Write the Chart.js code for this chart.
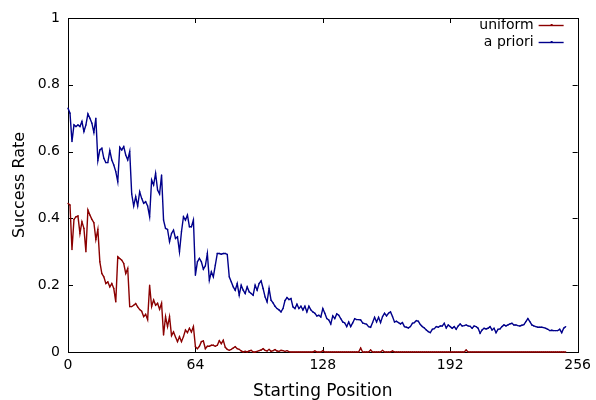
<!DOCTYPE html>
<html>
<head>
<meta charset="utf-8">
<script src="https://cdn.jsdelivr.net/npm/chart.js@4.4.1/dist/chart.umd.min.js"></script>
<style>
  html, body { margin: 0; padding: 0; background: #fff; }
</style>
</head>
<body>
<canvas id="chart" width="596" height="400"></canvas>
<script>
// Tick positions on both axes
const xTicks = [0, 64, 128, 192, 256];
const yTicks = [0, 0.2, 0.4, 0.6, 0.8, 1];
const seriesNames = ["uniform", "a priori"];

// Success rate per starting position (0..250)
const uniformRate = [
  0.445, 0.44, 0.307, 0.397, 0.405, 0.407, 0.355, 0.39, 0.37, 0.30,
  0.425, 0.41, 0.397, 0.387, 0.337, 0.367, 0.27, 0.235, 0.225, 0.205,
  0.21, 0.195, 0.205, 0.19, 0.15, 0.285, 0.28, 0.275, 0.265, 0.235,
  0.25, 0.136, 0.136, 0.14, 0.145, 0.135, 0.127, 0.122, 0.106, 0.113,
  0.097, 0.20, 0.136, 0.156, 0.14, 0.146, 0.128, 0.146, 0.051, 0.106,
  0.076, 0.106, 0.049, 0.06, 0.045, 0.031, 0.046, 0.031, 0.046, 0.066,
  0.058, 0.071, 0.06, 0.076, 0.016, 0.01, 0.017, 0.031, 0.033, 0.01,
  0.017, 0.017, 0.02, 0.02, 0.017, 0.02, 0.034, 0.025, 0.035, 0.014,
  0.008, 0.005, 0.008, 0.012, 0.016, 0.01, 0.008, 0.003, 0, 0.002,
  0, 0.003, 0.005, 0, 0, 0.002, 0.004, 0.006, 0.01, 0.005,
  0.003, 0.008, 0.002, 0.004, 0.007, 0.003, 0.002, 0.005, 0.004, 0.002,
  0.004, 0.001, 0, 0, 0, 0, 0, 0, 0, 0,
  0, 0, 0, 0, 0.003, 0, 0, 0, 0.004, 0,
  0, 0, 0, 0, 0, 0, 0, 0, 0, 0,
  0, 0, 0, 0, 0, 0, 0, 0.012, 0, 0,
  0, 0, 0.006, 0, 0, 0, 0, 0, 0.005, 0,
  0, 0, 0, 0.003, 0, 0, 0, 0, 0, 0,
  0, 0, 0, 0, 0, 0, 0, 0, 0, 0,
  0, 0, 0, 0, 0, 0, 0, 0, 0, 0,
  0, 0, 0, 0, 0, 0, 0, 0, 0, 0,
  0.006, 0, 0, 0, 0, 0, 0, 0, 0, 0,
  0, 0, 0, 0, 0, 0, 0, 0, 0, 0,
  0, 0, 0, 0, 0, 0, 0, 0, 0, 0,
  0, 0, 0, 0, 0, 0, 0, 0, 0, 0,
  0, 0, 0, 0, 0, 0, 0, 0, 0, 0,
  0
];

const aprioriRate = [
  0.73, 0.715, 0.63, 0.68, 0.675, 0.68, 0.675, 0.69, 0.66, 0.68,
  0.713, 0.70, 0.685, 0.657, 0.70, 0.573, 0.605, 0.61, 0.58, 0.567,
  0.567, 0.603, 0.575, 0.56, 0.54, 0.51, 0.613, 0.605, 0.615, 0.59,
  0.575, 0.60, 0.473, 0.437, 0.465, 0.437, 0.48, 0.46, 0.445, 0.45,
  0.437, 0.405, 0.515, 0.50, 0.535, 0.485, 0.473, 0.53, 0.395, 0.37,
  0.367, 0.33, 0.355, 0.365, 0.34, 0.345, 0.30, 0.36, 0.405, 0.395,
  0.41, 0.375, 0.375, 0.395, 0.23, 0.27, 0.28, 0.27, 0.248, 0.258,
  0.295, 0.215, 0.24, 0.225, 0.26, 0.295, 0.295, 0.293, 0.295, 0.295,
  0.292, 0.225, 0.21, 0.195, 0.185, 0.205, 0.17, 0.20, 0.185, 0.175,
  0.195, 0.18, 0.175, 0.17, 0.20, 0.185, 0.205, 0.213, 0.19, 0.165,
  0.15, 0.19, 0.155, 0.147, 0.137, 0.13, 0.126, 0.12, 0.13, 0.154,
  0.163, 0.157, 0.16, 0.135, 0.13, 0.143, 0.13, 0.137, 0.126, 0.137,
  0.12, 0.137, 0.126, 0.12, 0.116, 0.108, 0.11, 0.105, 0.13, 0.116,
  0.10, 0.096, 0.084, 0.108, 0.10, 0.114, 0.11, 0.10, 0.09, 0.087,
  0.076, 0.09, 0.076, 0.087, 0.10, 0.097, 0.097, 0.096, 0.087, 0.085,
  0.083, 0.076, 0.074, 0.088, 0.104, 0.09, 0.104, 0.088, 0.106, 0.116,
  0.108, 0.116, 0.12, 0.106, 0.09, 0.092, 0.088, 0.084, 0.088, 0.076,
  0.074, 0.072, 0.076, 0.086, 0.088, 0.094, 0.092, 0.082, 0.076, 0.072,
  0.066, 0.061, 0.058, 0.068, 0.07, 0.076, 0.074, 0.078, 0.078, 0.086,
  0.072, 0.081, 0.076, 0.071, 0.076, 0.068, 0.078, 0.084, 0.078, 0.079,
  0.081, 0.078, 0.077, 0.071, 0.078, 0.076, 0.071, 0.056, 0.066, 0.071,
  0.069, 0.071, 0.076, 0.066, 0.071, 0.058, 0.068, 0.069, 0.076, 0.081,
  0.078, 0.081, 0.084, 0.086, 0.081, 0.081, 0.079, 0.078, 0.08, 0.082,
  0.091, 0.10, 0.091, 0.081, 0.078, 0.076, 0.074, 0.074, 0.074, 0.073,
  0.071, 0.068, 0.064, 0.065, 0.064, 0.064, 0.064, 0.068, 0.058, 0.071,
  0.076
];

const colors = ["#8b0000", "#00008b"];
const fontFamily = "'DejaVu Sans', sans-serif";
const lineWidth = 1.4;

// turn a list of rates into {x, y} points, x being the starting position
function toPoints(rates) {
    return rates.map((rate, pos) => ({ x: pos, y: rate }));
}

// Box around the plot area with small inward ticks on every side
const framePlugin = {
    id: "frame",
    beforeDatasetsDraw(chart) {
        const { ctx, chartArea: a, scales } = chart;
        const len = 5;
        ctx.save();
        ctx.strokeStyle = "#000";
        ctx.lineWidth = 1;
        ctx.beginPath();
        xTicks.forEach(v => {
            const x = Math.round(scales.x.getPixelForValue(v)) + 0.5;
            ctx.moveTo(x, a.bottom); ctx.lineTo(x, a.bottom - len);
            ctx.moveTo(x, a.top); ctx.lineTo(x, a.top + len);
        });
        yTicks.forEach(v => {
            const y = Math.round(scales.y.getPixelForValue(v)) + 0.5;
            ctx.moveTo(a.left, y); ctx.lineTo(a.left + len, y);
            ctx.moveTo(a.right, y); ctx.lineTo(a.right - len, y);
        });
        ctx.stroke();
        ctx.strokeRect(Math.round(a.left) + 0.5, Math.round(a.top) + 0.5,
            Math.round(a.right - a.left), Math.round(a.bottom - a.top));
        ctx.restore();
    }
};

// gnuplot style key: text right aligned, sample line to its right
const keyPlugin = {
    id: "key",
    afterDatasetsDraw(chart) {
        const { ctx, chartArea: a } = chart;
        const textRight = a.right - 44;
        ctx.save();
        ctx.font = "14px " + fontFamily;
        ctx.textAlign = "right";
        ctx.textBaseline = "middle";
        seriesNames.forEach((name, i) => {
            const y = a.top + 7 + i * 17;
            ctx.fillStyle = "#000";
            ctx.fillText(name, textRight, y);
            ctx.strokeStyle = colors[i];
            ctx.lineWidth = lineWidth;
            ctx.beginPath();
            ctx.moveTo(textRight + 5, y + 0.5);
            ctx.lineTo(textRight + 30, y + 0.5);
            ctx.stroke();
            ctx.fillStyle = colors[i];
            ctx.fillRect(textRight + 17, y - 1, 2, 2);
        });
        ctx.restore();
    }
};

new Chart(document.getElementById("chart"), {
    type: "line",
    data: {
        datasets: [
            {
                label: seriesNames[0],
                data: toPoints(uniformRate),
                borderColor: colors[0],
                backgroundColor: colors[0],
                borderWidth: lineWidth,
                pointRadius: 0.7,
                pointBorderWidth: 0,
                tension: 0,
                clip: false
            },
            {
                label: seriesNames[1],
                data: toPoints(aprioriRate),
                borderColor: colors[1],
                backgroundColor: colors[1],
                borderWidth: lineWidth,
                pointRadius: 0.7,
                pointBorderWidth: 0,
                tension: 0,
                clip: false
            }
        ]
    },
    options: {
        responsive: false,
        animation: false,
        devicePixelRatio: 1,
        layout: { padding: { top: 18, right: 18, left: 0, bottom: 0 } },
        plugins: {
            legend: { display: false },
            tooltip: { enabled: false }
        },
        scales: {
            x: {
                type: "linear",
                min: 0,
                max: 256,
                afterBuildTicks: scale => { scale.ticks = xTicks.map(v => ({ value: v })); },
                afterFit: scale => { scale.height = 48; },
                grid: { display: false, drawTicks: false },
                border: { display: false },
                ticks: {
                    autoSkip: false,
                    maxRotation: 0,
                    padding: 5,
                    color: "#000",
                    font: { family: fontFamily, size: 14 },
                    callback: v => String(v)
                },
                title: {
                    display: true,
                    text: "Starting Position",
                    color: "#000",
                    font: { family: fontFamily, size: 17 },
                    padding: { top: 0, bottom: -2 }
                }
            },
            y: {
                type: "linear",
                min: 0,
                max: 1,
                afterBuildTicks: scale => { scale.ticks = yTicks.map(v => ({ value: v })); },
                afterFit: scale => { scale.width = 68; },
                grid: { display: false, drawTicks: false },
                border: { display: false },
                ticks: {
                    padding: 8,
                    color: "#000",
                    font: { family: fontFamily, size: 14 },
                    callback: v => String(v)
                },
                title: {
                    display: true,
                    text: "Success Rate",
                    color: "#000",
                    font: { family: fontFamily, size: 16 },
                    padding: { top: 10, bottom: 0 }
                }
            }
        }
    },
    plugins: [framePlugin, keyPlugin]
});
</script>
</body>
</html>
